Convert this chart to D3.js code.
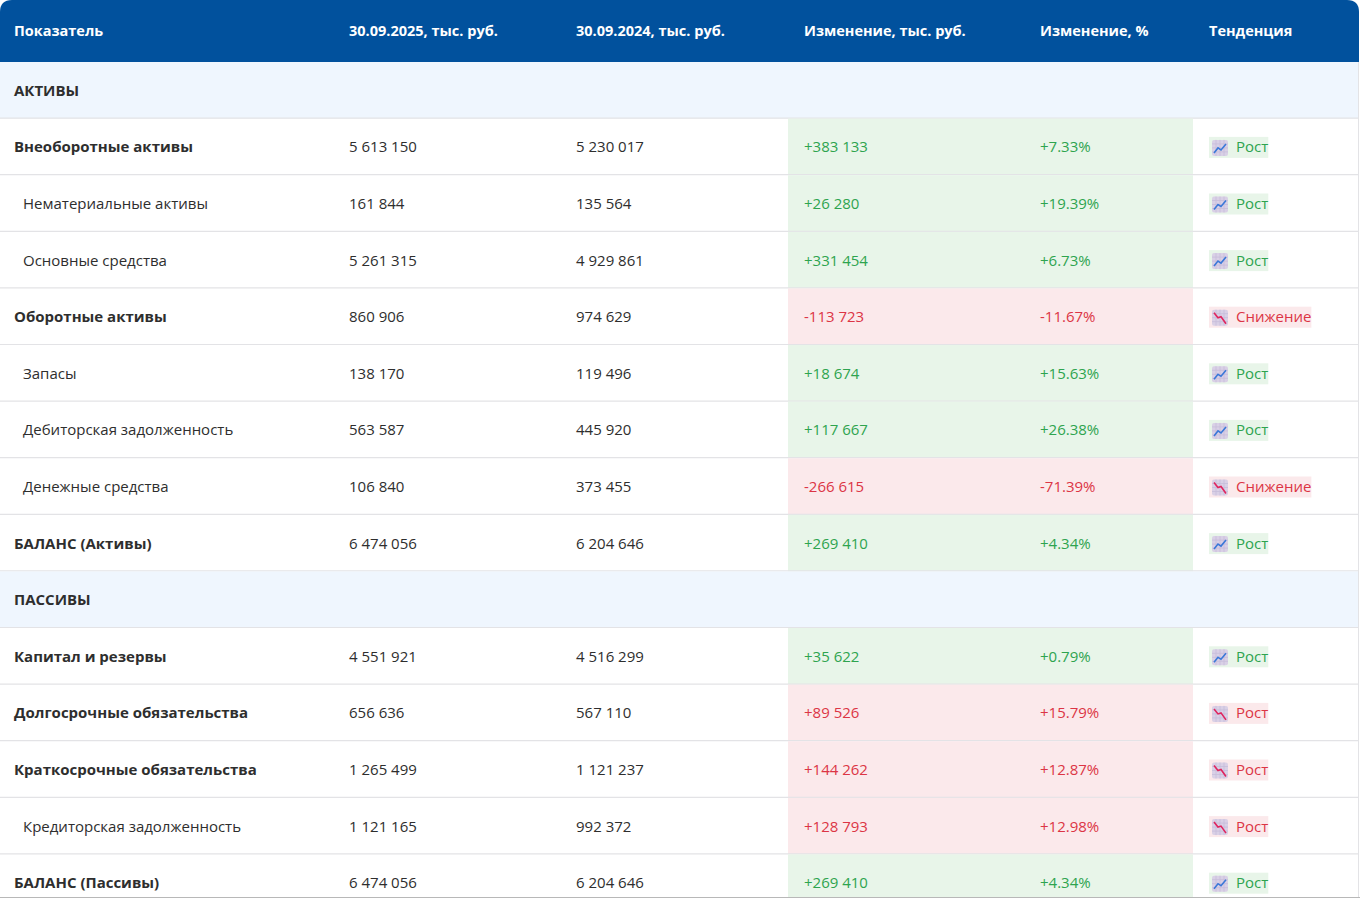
<!DOCTYPE html>
<html><head><meta charset="utf-8">
<script src="https://cdn.jsdelivr.net/npm/d3@7"></script>
<style>
html,body{margin:0;padding:0;background:#fff;overflow:hidden;}
svg{display:block;font-family:"Open Sans","Noto Sans",sans-serif;}
</style></head>
<body><svg id="chart" width="1360" height="898"></svg>
<script>
const headers = ["Показатель","30.09.2025, тыс. руб.","30.09.2024, тыс. руб.","Изменение, тыс. руб.","Изменение, %","Тенденция"];
const labels = ["АКТИВЫ","Внеоборотные активы","Нематериальные активы","Основные средства","Оборотные активы","Запасы","Дебиторская задолженность","Денежные средства","БАЛАНС (Активы)","ПАССИВЫ","Капитал и резервы","Долгосрочные обязательства","Краткосрочные обязательства","Кредиторская задолженность","БАЛАНС (Пассивы)"];
const rowKinds = ["section","bold","indent","indent","bold","indent","indent","indent","bold","section","bold","bold","bold","indent","bold"];
const values2025 = [null,5613150,161844,5261315,860906,138170,563587,106840,6474056,null,4551921,656636,1265499,1121165,6474056];
const values2024 = [null,5230017,135564,4929861,974629,119496,445920,373455,6204646,null,4516299,567110,1121237,992372,6204646];
const changeAbs = [null,383133,26280,331454,-113723,18674,117667,-266615,269410,null,35622,89526,144262,128793,269410];
const changePct = [null,7.33,19.39,6.73,-11.67,15.63,26.38,-71.39,4.34,null,0.79,15.79,12.87,12.98,4.34];
const trendLabels = [null,"Рост","Рост","Рост","Снижение","Рост","Рост","Снижение","Рост",null,"Рост","Рост","Рост","Рост","Рост"];
const tones = [null,"good","good","good","bad","good","good","bad","good",null,"good","bad","bad","bad","good"];

const W = 1360, H = 898, tableW = 1359, headerH = 62;
const loc = d3.formatLocale({decimal:".", thousands:"\u00a0", grouping:[3], currency:["",""]});
const fInt = loc.format(",d");
const fmtNum = v => fInt(v);
const fmtChg = v => (v>0?"+":"")+(v<0?"-"+fInt(-v):fInt(v));
const fmtPct = v => (v>0?"+":"")+v.toFixed(2)+"%";

const colStarts = [0,333,560,788,1024,1193,tableW];
const colX = d3.scaleOrdinal().domain(d3.range(6)).range(colStarts.slice(0,6));
const y = d3.scaleBand().domain(d3.range(labels.length)).range([headerH, headerH + labels.length*56.6]).padding(0);

const C = {header:"#01519d", section:"#eff6fe", border:"#e3e3e6", text:"#2e2e2e",
  goodBg:"#e8f5e9", badBg:"#fbe9eb", goodTx:"#2ea44f", badTx:"#dc3545"};

const svg = d3.select("#chart");
svg.append("rect").attr("width",W).attr("height",H).attr("fill","#fff");
const r = 12;
svg.append("path").attr("fill",C.header)
  .attr("d",`M0,${headerH} L0,${r} Q0,0 ${r},0 L${tableW-r},0 Q${tableW},0 ${tableW},${r} L${tableW},${headerH} Z`);
svg.append("g").selectAll("text").data(headers).join("text")
  .attr("x",(d,i)=> i===0?14:colX(i)+16).attr("y",headerH/2+5)
  .attr("fill","#fff").attr("font-weight",700).attr("font-size",14.5).text(d=>d);

const rows = svg.append("g").selectAll("g").data(labels.map((l,i)=>i)).join("g")
  .attr("transform",i=>`translate(0,${y(i)})`);
const bh = y.bandwidth();
rows.filter(i=>rowKinds[i]==="section").append("rect")
  .attr("width",tableW).attr("height",bh).attr("fill",C.section);
rows.filter(i=>rowKinds[i]!=="section").append("rect")
  .attr("x",colX(3)).attr("width",colX(5)-colX(3)).attr("height",bh)
  .attr("fill",i=>tones[i]==="good"?C.goodBg:C.badBg);
rows.append("line").attr("x1",0).attr("x2",tableW).attr("y1",bh-0.5).attr("y2",bh-0.5)
  .attr("stroke",C.border).attr("stroke-width",1.2);
const cy = bh/2+5.5;
rows.append("text").attr("x",i=>rowKinds[i]==="indent"?23:14).attr("y",cy)
  .attr("font-size",15).attr("font-weight",i=>rowKinds[i]==="indent"?400:700)
  .attr("fill",C.text).text(i=>labels[i]);
const dr = rows.filter(i=>rowKinds[i]!=="section");
dr.append("text").attr("x",colX(1)+16).attr("y",cy).attr("font-size",15).attr("fill",C.text).text(i=>fmtNum(values2025[i]));
dr.append("text").attr("x",colX(2)+16).attr("y",cy).attr("font-size",15).attr("fill",C.text).text(i=>fmtNum(values2024[i]));
dr.append("text").attr("x",colX(3)+16).attr("y",cy).attr("font-size",15).attr("fill",i=>tones[i]==="good"?C.goodTx:C.badTx).text(i=>fmtChg(changeAbs[i]));
dr.append("text").attr("x",colX(4)+16).attr("y",cy).attr("font-size",15).attr("fill",i=>tones[i]==="good"?C.goodTx:C.badTx).text(i=>fmtPct(changePct[i]));

// trend badge
const badge = dr.append("g").attr("transform",`translate(${colX(5)+16},${bh/2-10})`);
badge.each(function(i){
  const g = d3.select(this);
  const txt = g.append("text").attr("x",27).attr("y",15.5).attr("font-size",15)
    .attr("fill",tones[i]==="good"?C.goodTx:C.badTx).text(trendLabels[i]);
  const tw = txt.node().getComputedTextLength();
  g.insert("rect","text").attr("x",0).attr("y",0).attr("width",27+tw).attr("height",21)
    .attr("fill",tones[i]==="good"?C.goodBg:C.badBg);
  const ic = g.append("g").attr("transform","translate(3,3)");
  ic.append("rect").attr("width",16).attr("height",16).attr("rx",2).attr("fill","#d9d0e6");
  [4,8,12].forEach(k=>{
    ic.append("line").attr("x1",k).attr("x2",k).attr("y1",0).attr("y2",16).attr("stroke","#c7bcd9").attr("stroke-width",0.8);
    ic.append("line").attr("y1",k).attr("y2",k).attr("x1",0).attr("x2",16).attr("stroke","#c7bcd9").attr("stroke-width",0.8);
  });
  const pts = (tones[i]==="good") ? [[2,13],[6,8],[9,10],[14,4]] : [[2,3],[6,8],[9,7],[14,14]];
  ic.append("path").attr("d",d3.line()(pts)).attr("fill","none")
    .attr("stroke",tones[i]==="good"?"#3a78d8":"#e0245e").attr("stroke-width",1.6);
});

// right & bottom borders
svg.append("line").attr("x1",tableW-0.5).attr("x2",tableW-0.5).attr("y1",headerH).attr("y2",H)
  .attr("stroke",C.border);
svg.append("line").attr("x1",0).attr("x2",W).attr("y1",H-0.5).attr("y2",H-0.5)
  .attr("stroke","#b8b8b8");
</script></body></html>
